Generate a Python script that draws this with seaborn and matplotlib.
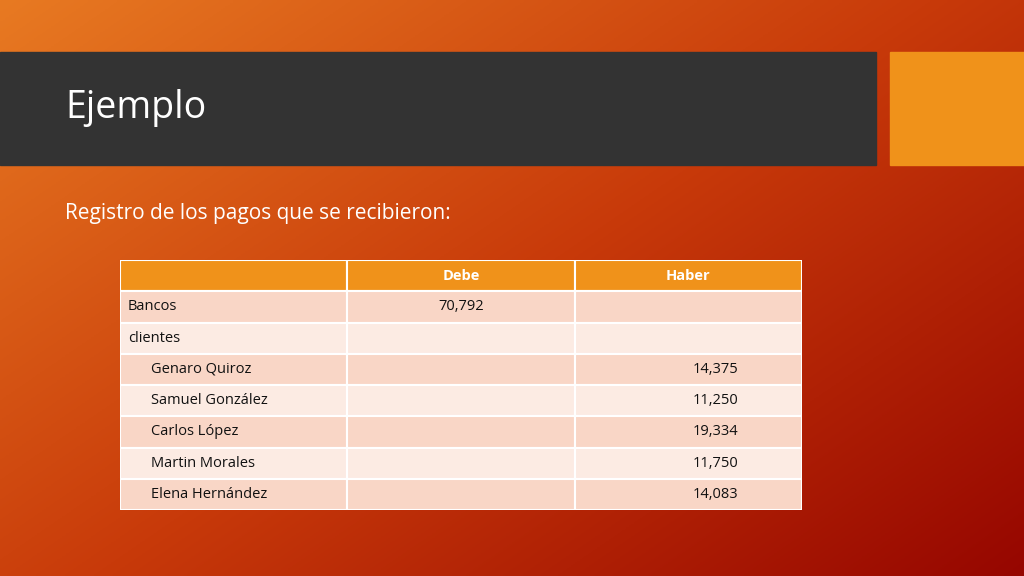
import numpy as np
import matplotlib
matplotlib.use("Agg")
import matplotlib.pyplot as plt
import seaborn as sns
from matplotlib.patches import Rectangle

title = "Ejemplo"
subtitle = "Registro de los pagos que se recibieron:"
columns = ["", "Debe", "Haber"]
row_labels = ["Bancos", "clientes", "Genaro Quiroz", "Samuel González",
              "Carlos López", "Martin Morales", "Elena Hernández"]
indent = [False, False, True, True, True, True, True]
debe = ["70,792", "", "", "", "", "", ""]
haber = ["", "", "14,375", "11,250", "19,334", "11,750", "14,083"]

sns.set_theme(style="white")
plt.rcParams["font.family"] = "Open Sans"
W, H = 1024, 576
fig = plt.figure(figsize=(W / 100, H / 100), dpi=100)

# background gradient
bg = fig.add_axes([0, 0, 1, 1])
yy, xx = np.mgrid[0:1:200j, 0:1:360j]
t = np.clip(0.55 * xx + 0.45 * yy, 0, 1)
c0 = np.array([0xe8, 0x7a, 0x22]) / 255
c1 = np.array([0xc8, 0x3a, 0x0a]) / 255
c2 = np.array([0x96, 0x06, 0x00]) / 255
img = np.where(t[..., None] < 0.5,
               c0 + (c1 - c0) * (t[..., None] / 0.5),
               c1 + (c2 - c1) * ((t[..., None] - 0.5) / 0.5))
bg.imshow(img, extent=[0, W, H, 0], aspect="auto")
bg.set_xlim(0, W); bg.set_ylim(H, 0); bg.axis("off")
bg.add_patch(Rectangle((0, 52), 876, 113, color="#333333"))
bg.add_patch(Rectangle((890, 52), 134, 113, color="#f0921a"))
bg.text(65, 108, title, color="white", fontsize=27, va="center", ha="left")
bg.text(65, 214, subtitle, color="white", fontsize=15, va="center", ha="left")

# table
x0, y0, x1, y1 = 120, 260, 802, 510
tax = fig.add_axes([x0 / W, 1 - y1 / H, (x1 - x0) / W, (y1 - y0) / H])
n = len(row_labels) + 1
tax.set_xlim(0, 3); tax.set_ylim(n, 0); tax.axis("off")
for c in range(3):
    tax.add_patch(Rectangle((c, 0), 1, 1, facecolor="#f0921a", edgecolor="white", lw=1.5))
    tax.text(c + 0.5, 0.5, columns[c], color="white", fontsize=10.5,
             fontweight="bold", ha="center", va="center")
for i, lab in enumerate(row_labels):
    r = i + 1
    col = "#f9d6c6" if i % 2 == 0 else "#fcebe3"
    for c in range(3):
        tax.add_patch(Rectangle((c, r), 1, 1, facecolor=col, edgecolor="white", lw=1.5))
    tax.text(0.035 + (0.1 if indent[i] else 0), r + 0.5, lab, fontsize=10.5,
             color="#111111", ha="left", va="center")
    if debe[i]:
        tax.text(1.5, r + 0.5, debe[i], fontsize=10.5, color="#111111", ha="center", va="center")
    if haber[i]:
        tax.text(2.62, r + 0.5, haber[i], fontsize=10.5, color="#111111", ha="center", va="center")

fig.savefig("out.png", dpi=100)
